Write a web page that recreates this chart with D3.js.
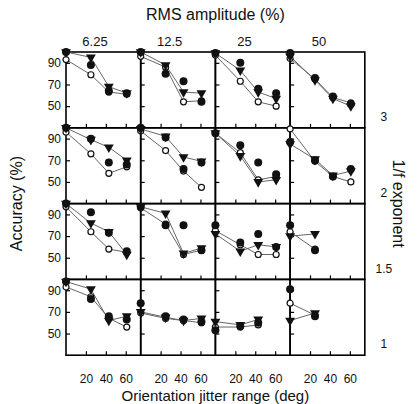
<!DOCTYPE html>
<html>
<head>
<meta charset="utf-8">
<script src="https://cdn.jsdelivr.net/npm/d3@7"></script>
<style>
  html, body { margin: 0; padding: 0; background: #fff; }
  svg { display: block; font-family: "Liberation Sans", Arial, sans-serif; }
</style>
</head>
<body>
<svg id="chart" width="419" height="404"></svg>
<script>
// Panel grid: columns = RMS amplitude, rows = 1/f exponent
const rmsAmplitudes = ["6.25", "12.5", "25", "50"];
const exponents = ["3", "2", "1.5", "1"];
const jitterRanges = [0, 25, 43, 61];
const xTicks = [20, 40, 60];
const yTicks = [50, 70, 90];

// Accuracy (%) per panel: [row][column] -> values at jitterRanges
const filledCircles = [
  [[100, 88, 64, 62], [100, 80, 73, 54], [99, 90, 66, 62], [99, 76, 59, 52]],
  [[100, 90, 68, 66], [100, 91, 62, 68], [95, 84, 68, 57], [87, 70, 55, 62]],
  [[100, 92, 73, 56], [97, 80, 80, 57], [80, 64, 72, 60], [80, 57]],
  [[98, 82, 66, 63], [78, 66, 63, 61], [53, 57, 60], [91, 66]]
];
const filledTriangles = [
  [[100, 95, 68, 62], [100, 88, 63, 62], [99, 83, 63, 57], [96, 74, 57, 50]],
  [[100, 89, 82, 70], [99, 92, 73, 69], [95, 74, 50, 52], [85, 71, 56, 60]],
  [[100, 82, 74, 53], [97, 91, 54, 59], [72, 56, 62, 60], [70, 72]],
  [[98, 91, 62, 66], [70, 65, 62, 64], [61, 58, 63], [62, 69]]
];
const openCircles = [
  [[93, 79, 63, 61], [96, 86, 54, 55], [97, 73, 54, 50], [94, 75, 58, 53]],
  [[96, 76, 58, 64], [97, 79, 60, 45], [95, 77, 52, 55], [99, 69, 55, 50]],
  [[97, 74, 58, 55], [96, 81, 53, 57], [75, 62, 53, 53], [74, 58]],
  [[93, 84, 64, 56], [69, 64, 62, 60], [56, 56, 58], [78, 67]]
];

const svg = d3.select("#chart");
const gridLeft = 66, gridTop = 52, pw = 74.7, ph = 75.8;

const x = d3.scaleLinear().domain([0, 75]).range([0, pw]);
const y = d3.scaleLinear().domain([30, 100]).range([ph, 0]);
const colX = d3.scaleBand().domain(d3.range(4)).range([gridLeft, gridLeft + 4 * pw]);
const rowY = d3.scaleBand().domain(d3.range(4)).range([gridTop, gridTop + 4 * ph]);

const line = d3.line().x((d, i) => x(jitterRanges[i])).y(d => y(d));
const triangle = d3.symbol().type(d3.symbolTriangle).size(42);

for (let r = 0; r < 4; r++) {
  for (let c = 0; c < 4; c++) {
    const g = svg.append("g").attr("transform", `translate(${colX(c)},${rowY(r)})`);

    const ax = g.append("g").attr("transform", `translate(0,${ph})`)
      .call(d3.axisBottom(x).tickValues(xTicks).tickSize(-4).tickSizeOuter(0)
        .tickFormat(r === 3 ? d3.format("d") : ""));
    const ay = g.append("g")
      .call(d3.axisLeft(y).tickValues(yTicks).tickSize(-4).tickSizeOuter(0)
        .tickFormat(c === 0 ? d3.format("d") : ""));
    [ax, ay].forEach(a => {
      a.select(".domain").remove();
      a.selectAll("line").attr("stroke", "#000").attr("stroke-width", 1.2);
      a.selectAll("text").attr("fill", "#111").style("font-size", "12px")
        .style("font-family", "Liberation Sans, Arial, sans-serif");
    });
    ax.selectAll("text").attr("y", 3).attr("dy", "2.1em");
    ay.selectAll("text").attr("dx", "-2px");

    g.append("rect").attr("width", pw).attr("height", ph)
      .attr("fill", "none").attr("stroke", "#000").attr("stroke-width", 1.6);

    // model-fit lines through triangle and open-circle series
    [filledTriangles[r][c], openCircles[r][c]].forEach(vals => {
      g.append("path").datum(vals).attr("d", line)
        .attr("fill", "none").attr("stroke", "#666").attr("stroke-width", 1);
    });

    g.selectAll(".open").data(openCircles[r][c]).join("circle")
      .attr("cx", (d, i) => x(jitterRanges[i])).attr("cy", d => y(d)).attr("r", 3)
      .attr("fill", "#fff").attr("stroke", "#111").attr("stroke-width", 1.2);
    g.selectAll(".tri").data(filledTriangles[r][c]).join("path")
      .attr("d", triangle)
      .attr("transform", (d, i) => `translate(${x(jitterRanges[i])},${y(d)}) rotate(180)`)
      .attr("fill", "#111");
    g.selectAll(".dot").data(filledCircles[r][c]).join("circle")
      .attr("cx", (d, i) => x(jitterRanges[i])).attr("cy", d => y(d)).attr("r", 4)
      .attr("fill", "#111");
  }
}

// Column headers
rmsAmplitudes.forEach((t, c) => {
  svg.append("text").attr("x", colX(c) + 29).attr("y", 46)
    .attr("text-anchor", "middle").style("font-size", "13px").attr("fill", "#111").text(t);
});
// Row labels
exponents.forEach((t, r) => {
  svg.append("text").attr("x", gridLeft + 4 * pw + 19).attr("y", rowY(r) + 69)
    .attr("text-anchor", "middle").style("font-size", "12px").attr("fill", "#111").text(t);
});

svg.append("text").attr("x", gridLeft + 2 * pw).attr("y", 20).attr("text-anchor", "middle")
  .style("font-size", "16px").attr("fill", "#111").text("RMS amplitude (%)");
svg.append("text").attr("x", gridLeft + 2 * pw).attr("y", 401).attr("text-anchor", "middle")
  .style("font-size", "15px").attr("fill", "#111").text("Orientation jitter range (deg)");
svg.append("text").attr("transform", `translate(22,${gridTop + 2 * ph}) rotate(-90)`)
  .attr("text-anchor", "middle").style("font-size", "16px").attr("fill", "#111").text("Accuracy (%)");
svg.append("text").attr("transform", `translate(393,${gridTop + 2 * ph}) rotate(90)`)
  .attr("text-anchor", "middle").style("font-size", "16px").attr("fill", "#111").text("1/f exponent");
</script>
</body>
</html>
